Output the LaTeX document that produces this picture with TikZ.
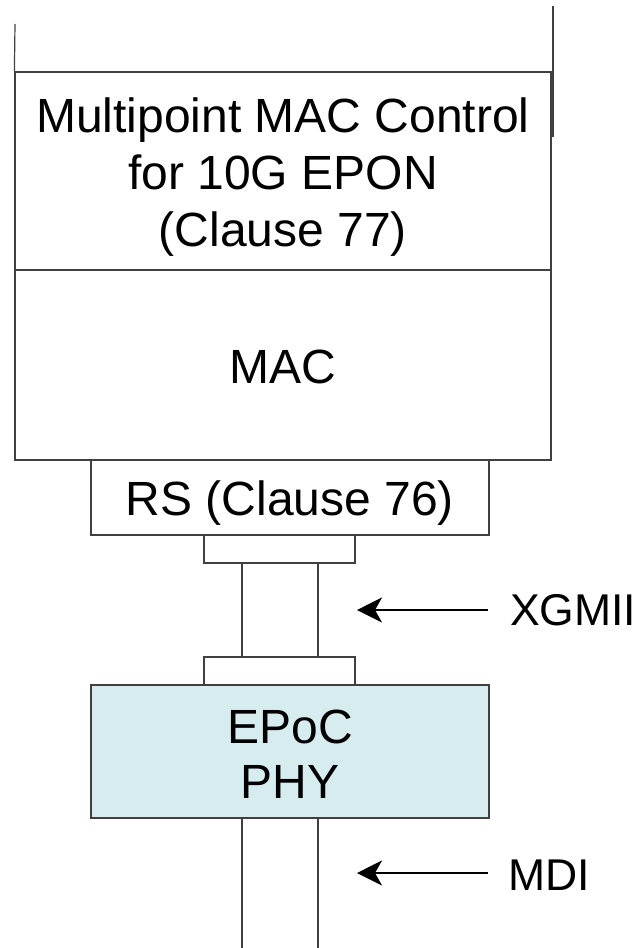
\documentclass[tikz,border=0pt]{standalone}
\usepackage{fontspec}
\setmainfont{Liberation Sans}
\usetikzlibrary{arrows.meta,calc}
\definecolor{linegray}{RGB}{64,64,64}
\definecolor{phyfill}{RGB}{215,236,239}
\begin{document}
\begin{tikzpicture}[x=1pt,y=-1pt,
  box/.style={draw=linegray,line width=1.2pt,rectangle,inner sep=0pt},
  ln/.style={draw=linegray,line width=1.2pt},
  lbl/.style={inner sep=0pt,anchor=base,font=\fontsize{48}{57.6}\selectfont},
  lblw/.style={inner sep=0pt,anchor=base west,font=\fontsize{44.5}{53}\selectfont},
  arr/.style={draw=black,line width=1.8pt,-{Stealth[length=25pt,width=25pt,inset=7pt]}}]
\useasboundingbox (0,0) rectangle (643,948);
% boxes
\node[box,minimum width=536pt,minimum height=198pt] (mpcp) at (283,171) {};
\node[box,minimum width=536pt,minimum height=190pt] (mac) at (283,365) {};
\node[box,minimum width=398pt,minimum height=75pt] (rs) at (290,497.5) {};
\node[box,minimum width=151pt,minimum height=28pt] (c1) at (279.5,549) {};
\node[box,minimum width=151pt,minimum height=28pt] (c2) at (279.5,671) {};
\node[box,fill=phyfill,minimum width=398pt,minimum height=133pt] (phy) at (290,751.5) {};
% texts
\node[lbl] (t1) at (283,132) {Multipoint MAC Control};
\node[lbl] (t2) at (283,189) {for 10G EPON};
\node[lbl] (t3) at (283,246) {(Clause 77)};
\node[lbl] (tmac) at (283,383) {MAC};
\node[lbl] (trs) at (290,515) {RS (Clause 76)};
\node[lbl] (tepoc) at (290,743) {EPoC};
\node[lbl] (tphy) at (290,798) {PHY};
\node[lblw] (xgmii) at (510,625) {XGMII};
\node[lblw] (mdi) at (508,890) {MDI};
% top lines
\coordinate (tl) at (15,24);
\draw[ln] (tl) -- (mpcp.north west);
\coordinate (tr1) at (553,6);
\coordinate (tr2) at (553,137);
\draw[ln] (tr1) -- (tr2);
% xgmii lines
\coordinate (l1) at (242,0);
\coordinate (l2) at (318,0);
\draw[ln] (c1.south -| l1) -- (c2.north -| l1);
\draw[ln] (c1.south -| l2) -- (c2.north -| l2);
% mdi lines
\coordinate (b1) at (242,948);
\coordinate (b2) at (318,948);
\draw[ln] (phy.south -| b1) -- (b1);
\draw[ln] (phy.south -| b2) -- (b2);
% arrows
\coordinate (xt) at (488,610);
\coordinate (xh) at (357,610);
\draw[arr] (xt) -- (xh);
\coordinate (mt) at (488,873);
\coordinate (mh) at (357,873);
\draw[arr] (mt) -- (mh);
\end{tikzpicture}
\end{document}
